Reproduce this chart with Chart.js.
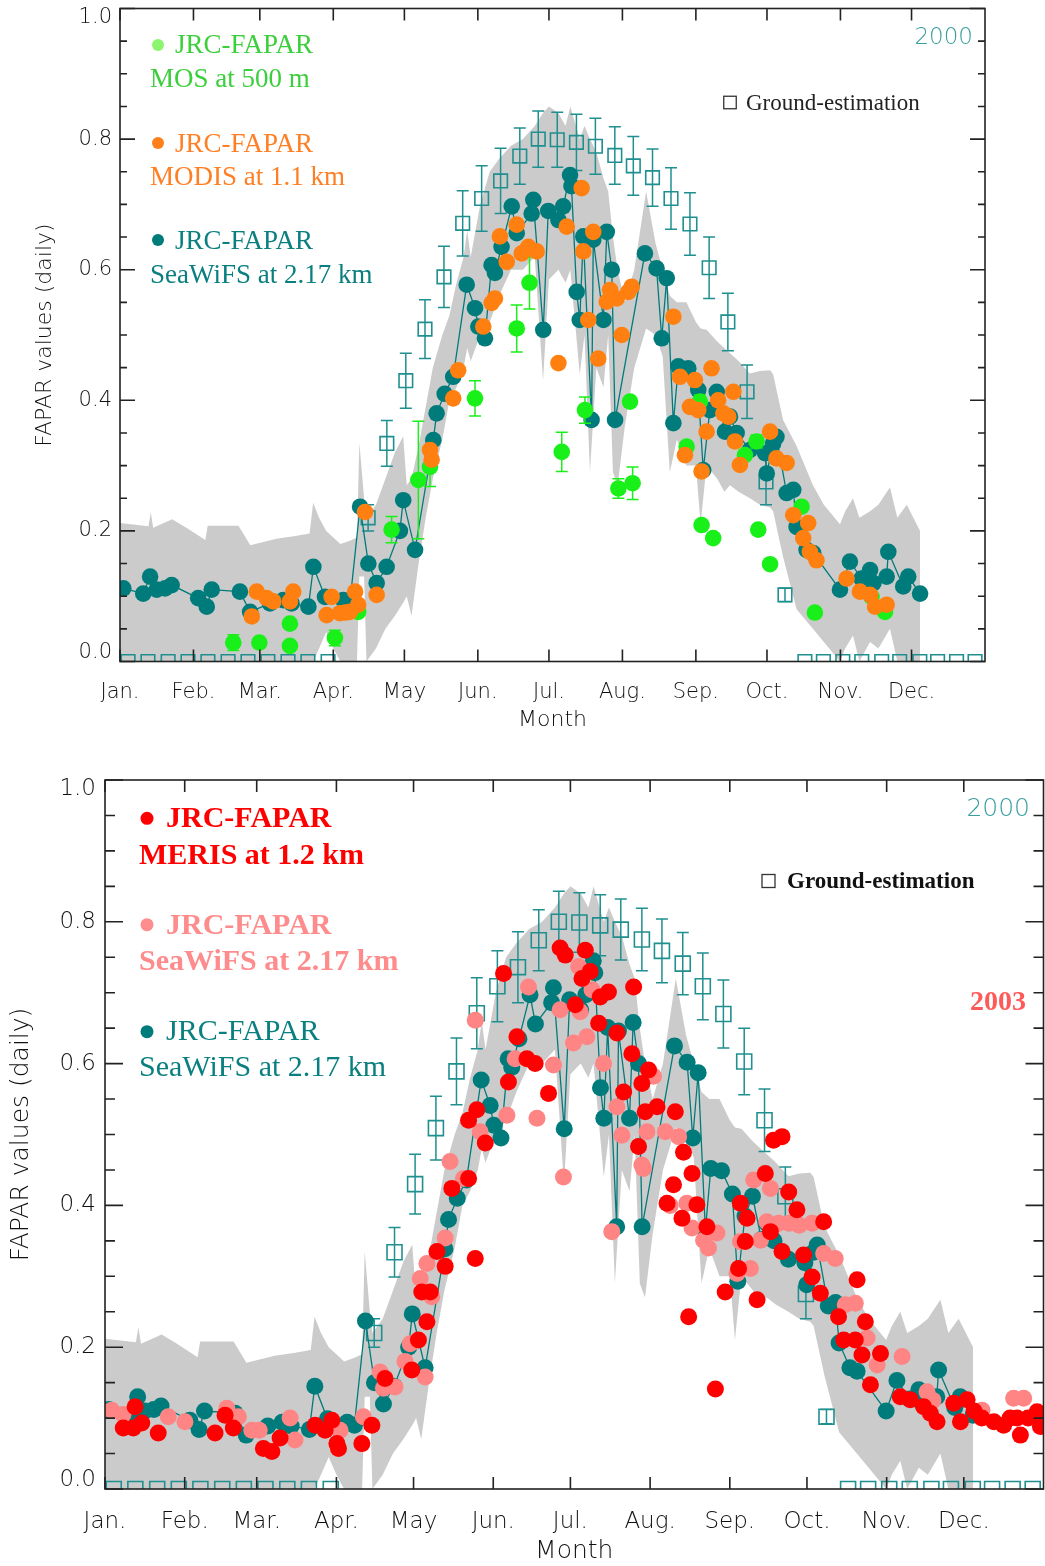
<!DOCTYPE html>
<html>
<head>
<meta charset="utf-8">
<script src="https://cdn.jsdelivr.net/npm/chart.js@4.4.1/dist/chart.umd.min.js"></script>
<style>
  body { margin: 0; background: #fff; }
  #painel { position: relative; width: 1045px; height: 1566px; }
  #painel canvas { position: absolute; left: 0; }
</style>
</head>
<body>
<div id="painel">
  <canvas id="grafico2000" width="1045" height="745" style="top:0"></canvas>
  <canvas id="grafico2003" width="1045" height="806" style="top:760px"></canvas>
</div>
<script>
// eixos
const nomesMeses = ["Jan.", "Feb.", "Mar.", "Apr.", "May", "Jun.", "Jul.", "Aug.", "Sep.", "Oct.", "Nov.", "Dec."];
const inicioMeses = [0, 31, 59, 90, 120, 151, 181, 212, 243, 273, 304, 334];
const valoresEixoY = [0, 0.2, 0.4, 0.6, 0.8, 1.0];
const passoMenorY = 0.05;

// faixa cinza (min / max)
const bandaDias = [0, 12, 13, 14, 22, 28, 36, 37, 50, 55, 66, 74, 80, 81.5, 84, 87, 90, 93, 97, 100, 101, 103, 104, 108, 112, 116, 119.5, 121, 123, 126, 129, 132, 136, 139, 142, 145, 146.5, 148, 152, 156, 160, 165, 170, 175, 178.5, 181, 185, 188, 190, 194, 196, 198.3, 201, 204, 206, 208, 210, 213, 217, 222, 226, 229, 232, 235, 239, 243, 245, 247.5, 252, 255, 257.4, 261, 265.8, 270, 274.3, 275.6, 279.8, 285.5, 292.4, 297, 303.8, 306, 309.3, 312, 316.5, 320, 324.9, 328, 332, 337.6];
const bandaMax = [.212, .207, .228, .205, .218, .205, .186, .208, .208, .178, .188, .192, .196, .243, .22, .2, .19, .18, .185, .19, .335, .25, .22, .24, .28, .32, .345, .27, .28, .33, .39, .45, .5, .53, .58, .62, .66, .62, .7, .75, .77, .79, .8, .82, .84, .85, .84, .82, .85, .8, .82, .8, .78, .74, .72, .65, .6, .55, .6, .72, .64, .6, .56, .55, .55, .52, .51, .508, .49, .48, .472, .46, .441, .445, .446, .44, .37, .33, .27, .24, .21, .23, .25, .22, .23, .24, .267, .22, .24, .2];
const bandaMin = [0, 0, 0, 0, 0, 0, 0, 0, 0, 0, 0, 0, 0, 0, .02, .045, .02, 0, 0, 0, .13, .13, 0, .02, .05, .07, .09, .1, .07, .15, .22, .28, .34, .4, .42, .45, .48, .46, .5, .52, .56, .6, .6, .62, .43, .585, .6, .58, .6, .44, .5, .29, .45, .42, .5, .29, .27, .36, .45, .51, .5, .467, .29, .34, .3, .3, .21, .3, .28, .26, .27, .26, .25, .24, .236, .23, .16, .08, .05, .03, 0, .02, .04, 0, .03, .02, .05, 0, 0, 0];

// estimativa de campo
const campoDias = [3.4, 11.8, 20.3, 28.7, 37.1, 45.6, 54, 62.4, 70.9, 79.3, 87.8, 104.7, 112.6, 120.6, 128.7, 136.7, 144.6, 152.6, 160.6, 168.7, 176.5, 184.5, 192.6, 200.6, 208.8, 216.6, 224.7, 232.5, 240.5, 248.6, 256.5, 264.6, 272.6, 280.6, 289, 296.8, 305, 313, 321.4, 329, 337.5, 345, 353, 360.8];
const campoValores = [0, 0, 0, 0, 0, 0, 0, 0, 0, 0, 0, 0.22, 0.334, 0.43, 0.509, 0.589, 0.671, 0.709, 0.736, 0.774, 0.8, 0.799, 0.795, 0.789, 0.775, 0.759, 0.741, 0.709, 0.67, 0.603, 0.52, 0.413, 0.275, 0.102, 0, 0, 0, 0, 0, 0, 0, 0, 0, 0];
const campoErros = [0, 0, 0, 0, 0, 0, 0, 0, 0, 0, 0, 0.02, 0.035, 0.042, 0.045, 0.047, 0.05, 0.05, 0.05, 0.043, 0.043, 0.042, 0.043, 0.043, 0.044, 0.045, 0.044, 0.047, 0.048, 0.047, 0.044, 0.041, 0.035, 0.01, 0, 0, 0, 0, 0, 0, 0, 0, 0, 0];

// JRC-FAPAR SeaWiFS 2000
const seawifsDias = [1.4, 9.8, 12.7, 15.5, 19, 21.8, 33, 36.6, 38.7, 50.6, 54.9, 63.3, 68.9, 72.4, 79.5, 81.6, 86.5, 94.2, 97, 101.3, 104.8, 108.3, 112.5, 118.1, 119.5, 124.5, 132.2, 133.6, 137, 140.6, 146.3, 149.8, 151.2, 154, 156.8, 158.2, 161, 165.3, 167.4, 173.7, 174.4, 178.6, 180.7, 185, 187, 189.9, 190.5, 192.7, 194, 195.5, 199, 199.7, 204, 205.4, 207.5, 208.9, 221.5, 226.4, 228.6, 230.7, 233.5, 235.6, 239.8, 244, 246.1, 248.9, 251.8, 255.3, 257.4, 260.2, 265.8, 272.2, 272.9, 275.6, 277, 281.3, 284.1, 285.5, 289.7, 292.5, 303.8, 308, 312.9, 316.5, 317.9, 323.5, 324.2, 330.5, 332.6, 337.6];
const seawifsValores = [0.112, 0.104, 0.13, 0.11, 0.112, 0.117, 0.097, 0.084, 0.11, 0.107, 0.076, 0.089, 0.094, 0.089, 0.084, 0.145, 0.099, 0.094, 0.09, 0.237, 0.15, 0.12, 0.145, 0.2, 0.247, 0.171, 0.339, 0.38, 0.41, 0.436, 0.577, 0.541, 0.513, 0.495, 0.607, 0.595, 0.635, 0.697, 0.656, 0.686, 0.707, 0.508, 0.69, 0.676, 0.697, 0.745, 0.728, 0.566, 0.523, 0.651, 0.37, 0.646, 0.523, 0.658, 0.6, 0.37, 0.625, 0.602, 0.495, 0.587, 0.365, 0.452, 0.449, 0.416, 0.293, 0.385, 0.413, 0.352, 0.375, 0.35, 0.324, 0.319, 0.288, 0.334, 0.344, 0.258, 0.263, 0.206, 0.171, 0.166, 0.11, 0.153, 0.127, 0.14, 0.12, 0.13, 0.168, 0.115, 0.13, 0.104];

// JRC-FAPAR MOS 500 m
const mosDias = [47.8, 58.8, 71.7, 71.7, 90.7, 100.5, 114.6, 125.9, 130.8, 149.8, 167.4, 172.8, 186.4, 196.2, 210.3, 215.2, 216.3, 239.1, 244.7, 245.4, 250.3, 263.7, 268.6, 269.3, 274.3, 287.6, 293.2, 317.1, 322.8];
const mosValores = [0.029, 0.029, 0.058, 0.024, 0.036, 0.076, 0.202, 0.278, 0.298, 0.403, 0.51, 0.58, 0.321, 0.385, 0.265, 0.398, 0.273, 0.329, 0.398, 0.209, 0.189, 0.316, 0.337, 0.202, 0.149, 0.237, 0.075, 0.099, 0.076];
const mosErros = [0.012, 0, 0, 0, 0.012, 0, 0.02, 0.09, 0.03, 0.027, 0.036, 0.04, 0.03, 0.02, 0.015, 0, 0.025, 0, 0.01, 0, 0, 0, 0.01, 0, 0, 0, 0, 0, 0];

// JRC-FAPAR MODIS 1.1 km
const modisDias = [55.6, 57.7, 61.9, 64.7, 71.7, 73.1, 87.2, 89.3, 92.8, 95, 97, 99.2, 100.5, 103.4, 108.3, 130.8, 131.5, 140.6, 142.7, 153.3, 156.8, 158.2, 160.3, 163.2, 167.4, 169.5, 172.3, 175.8, 185, 188.5, 194.8, 195.5, 197.6, 199.7, 201.8, 205.4, 206.8, 209.6, 211.7, 214.5, 215.9, 233.5, 236.3, 238.4, 240.5, 242.6, 244, 245.4, 247.5, 249.6, 252.4, 254.6, 256.7, 258.8, 259.5, 261.6, 274.3, 277, 281.3, 284.1, 288.3, 290.4, 291.1, 293.9, 306.6, 312.2, 316.5, 318.6, 323.5];
const modisValores = [0.069, 0.107, 0.097, 0.092, 0.092, 0.107, 0.071, 0.099, 0.074, 0.075, 0.076, 0.107, 0.087, 0.229, 0.102, 0.324, 0.309, 0.403, 0.446, 0.513, 0.549, 0.556, 0.651, 0.612, 0.669, 0.625, 0.635, 0.628, 0.457, 0.666, 0.725, 0.628, 0.523, 0.658, 0.464, 0.551, 0.569, 0.556, 0.5, 0.566, 0.574, 0.528, 0.436, 0.316, 0.39, 0.431, 0.385, 0.291, 0.352, 0.449, 0.4, 0.38, 0.375, 0.413, 0.337, 0.301, 0.352, 0.311, 0.304, 0.224, 0.189, 0.212, 0.168, 0.155, 0.127, 0.107, 0.102, 0.084, 0.087];

// JRC-FAPAR MERIS 1.2 km (2003)
const merisDias = [7.1, 11, 11.7, 14.3, 20.7, 42.8, 46.7, 49.9, 61.6, 64.9, 68.1, 81.7, 85.6, 88.2, 90.2, 90.8, 99.9, 103.8, 108.9, 119.3, 121.9, 123.2, 125.2, 126.5, 129.1, 132.3, 134.9, 141.4, 141.4, 144, 144.6, 147.9, 155, 156.9, 160.2, 164.1, 167.3, 172.5, 177, 179, 182.9, 185.5, 186.8, 188.7, 192, 192.6, 195.8, 199.1, 201.7, 204.9, 205.6, 207.5, 208.8, 210.1, 211.4, 214.7, 218.6, 221.1, 221.8, 224.4, 225, 227, 228.3, 230.2, 234.1, 237.4, 241.2, 246.4, 247.1, 249, 249.7, 253.6, 256.8, 258.8, 260, 263.3, 263.3, 265.9, 269.1, 271.7, 275, 278.2, 279.5, 285.3, 287.3, 291.8, 292.5, 294.4, 295.7, 297.7, 301.6, 309.3, 313.2, 318.4, 321, 323.6, 330.1, 332.7, 335.3, 338, 341, 345.7, 349.5, 352, 354.7, 356, 359, 362.5, 363.8];
const merisValores = [0.086, 0.086, 0.116, 0.093, 0.079, 0.079, 0.104, 0.086, 0.057, 0.053, 0.072, 0.09, 0.083, 0.097, 0.064, 0.057, 0.064, 0.09, 0.156, 0.168, 0.21, 0.278, 0.236, 0.278, 0.335, 0.314, 0.424, 0.438, 0.52, 0.325, 0.535, 0.488, 0.727, 0.574, 0.638, 0.607, 0.6, 0.558, 0.763, 0.753, 0.683, 0.72, 0.76, 0.73, 0.657, 0.694, 0.701, 0.643, 0.56, 0.614, 0.708, 0.483, 0.572, 0.532, 0.591, 0.539, 0.403, 0.429, 0.532, 0.382, 0.475, 0.243, 0.445, 0.401, 0.37, 0.141, 0.278, 0.311, 0.403, 0.349, 0.382, 0.267, 0.445, 0.363, 0.492, 0.497, 0.335, 0.419, 0.394, 0.33, 0.299, 0.276, 0.377, 0.243, 0.21, 0.21, 0.295, 0.189, 0.236, 0.147, 0.191, 0.13, 0.126, 0.116, 0.107, 0.095, 0.121, 0.095, 0.126, 0.11, 0.1, 0.095, 0.09, 0.1, 0.1, 0.076, 0.1, 0.109, 0.088];

// JRC-FAPAR SeaWiFS 2.17 km (2003)
const seawifs03Dias = [2.6, 7, 24.6, 31.1, 47.4, 51.9, 57.1, 60, 72, 73.9, 91.4, 100.5, 107, 108.3, 112.8, 116.7, 118.7, 122.6, 124.5, 125.2, 127.1, 132.3, 134.2, 139.4, 144, 145.9, 156.3, 159.5, 164.7, 168, 174.4, 177, 178.3, 182.2, 184.2, 184.8, 187.4, 189.4, 193.9, 197.1, 199.1, 201, 208.8, 209.4, 210.8, 213.3, 217.9, 219.8, 223.1, 226.3, 228.3, 232.8, 234.7, 238, 245.8, 247.1, 251, 252.3, 254.9, 257.4, 258.8, 262, 266, 270, 275, 279.5, 284, 287.9, 291.8, 296.4, 300.3, 310, 319.7, 322, 341.1, 353.4, 357.3];
const seawifs03Valores = [0.111, 0.105, 0.102, 0.095, 0.114, 0.102, 0.083, 0.083, 0.1, 0.069, 0.083, 0.102, 0.165, 0.142, 0.144, 0.18, 0.205, 0.297, 0.158, 0.318, 0.271, 0.354, 0.462, 0.438, 0.661, 0.504, 0.527, 0.607, 0.708, 0.523, 0.598, 0.676, 0.44, 0.629, 0.737, 0.673, 0.638, 0.704, 0.6, 0.363, 0.539, 0.499, 0.457, 0.452, 0.504, 0.582, 0.504, 0.4, 0.497, 0.403, 0.368, 0.351, 0.34, 0.361, 0.304, 0.349, 0.311, 0.436, 0.351, 0.377, 0.424, 0.375, 0.375, 0.372, 0.375, 0.332, 0.325, 0.26, 0.262, 0.213, 0.175, 0.187, 0.137, 0.125, 0.111, 0.128, 0.128];

const TEAL = "#007b7b";
const TEAL_CAMPO = "#1f8f8f";
const CINZA = "#cbcbcb";

function pontos(dias, valores) {
  return dias.map((d, i) => ({ x: d, y: valores[i] }));
}

function faixaCinza() {
  return [
    { data: pontos(bandaDias, bandaMax), order: 8, fill: "+1", backgroundColor: CINZA,
      borderWidth: 0, pointRadius: 0, tension: 0 },
    { data: pontos(bandaDias, bandaMin), order: 9, fill: false, backgroundColor: CINZA,
      borderWidth: 0, pointRadius: 0, tension: 0 }
  ];
}

function campo(raio) {
  return { data: pontos(campoDias, campoValores), erros: campoErros, corErro: TEAL_CAMPO, capa: 6,
    order: 5, showLine: false, pointStyle: "rect", pointRadius: raio,
    pointBackgroundColor: "rgba(0,0,0,0)", pointBorderColor: TEAL_CAMPO, pointBorderWidth: 1.6 };
}

function serieSeawifs(raio) {
  return { data: pontos(seawifsDias, seawifsValores), order: 3, showLine: true, tension: 0,
    borderColor: TEAL, borderWidth: 1.3, pointRadius: raio, pointBackgroundColor: TEAL, pointBorderWidth: 0 };
}

function serieDispersa(dias, valores, cor, ordem, raio) {
  return { data: pontos(dias, valores), order: ordem, showLine: false,
    pointRadius: raio, pointBackgroundColor: cor, pointBorderWidth: 0 };
}

// barras de erro desenhadas logo depois da série a que pertencem
const barrasErro = {
  id: "barrasErro",
  afterDatasetDraw(chart, args) {
    const ds = chart.data.datasets[args.index];
    if (!ds.erros) return;
    const { ctx, chartArea: a, scales: { x, y } } = chart;
    ctx.save();
    ctx.beginPath();
    ctx.rect(a.left, a.top, a.right - a.left, a.bottom - a.top);
    ctx.clip();
    ctx.strokeStyle = ds.corErro;
    ctx.lineWidth = 1.5;
    ctx.beginPath();
    ds.data.forEach((p, i) => {
      const e = ds.erros[i];
      if (!e) return;
      const px = x.getPixelForValue(p.x);
      const y1 = y.getPixelForValue(p.y + e);
      const y2 = y.getPixelForValue(p.y - e);
      ctx.moveTo(px, y1); ctx.lineTo(px, y2);
      ctx.moveTo(px - ds.capa, y1); ctx.lineTo(px + ds.capa, y1);
      ctx.moveTo(px - ds.capa, y2); ctx.lineTo(px + ds.capa, y2);
    });
    ctx.stroke();
    ctx.restore();
  }
};

// moldura, marcas para dentro, rótulos do eixo y e textos da legenda
function moldura(cfg) {
  return {
    id: "moldura",
    afterDraw(chart) {
      const { ctx, chartArea: a, scales: { x, y } } = chart;
      ctx.save();
      ctx.strokeStyle = "#222";
      ctx.lineWidth = 1.6;
      ctx.strokeRect(a.left, a.top, a.right - a.left, a.bottom - a.top);
      ctx.beginPath();
      inicioMeses.forEach(d => {
        const px = x.getPixelForValue(d);
        ctx.moveTo(px, a.bottom); ctx.lineTo(px, a.bottom - cfg.tickX);
        ctx.moveTo(px, a.top); ctx.lineTo(px, a.top + cfg.tickX);
      });
      const n = Math.round(1 / passoMenorY);
      for (let k = 0; k <= n; k++) {
        const py = y.getPixelForValue(k * passoMenorY);
        const len = k % 4 === 0 ? cfg.tickMaior : cfg.tickMenor;
        ctx.moveTo(a.left, py); ctx.lineTo(a.left + len, py);
        ctx.moveTo(a.right, py); ctx.lineTo(a.right - len, py);
      }
      ctx.stroke();

      ctx.fillStyle = "#111";
      ctx.font = cfg.fonteTick;
      ctx.textAlign = "right";
      ctx.textBaseline = "middle";
      valoresEixoY.forEach(v => {
        let py = y.getPixelForValue(v);
        py = Math.min(Math.max(py, a.top + cfg.recuoY), a.bottom - cfg.recuoY);
        ctx.fillText(v.toFixed(1), a.left - cfg.padY, py);
      });

      ctx.textBaseline = "alphabetic";
      cfg.pontosLegenda.forEach(p => {
        ctx.fillStyle = p.cor;
        ctx.beginPath();
        ctx.arc(p.x, p.y, p.r, 0, Math.PI * 2);
        ctx.fill();
      });
      cfg.textos.forEach(t => {
        ctx.fillStyle = t.cor;
        ctx.font = t.fonte;
        ctx.textAlign = t.alinha || "left";
        ctx.fillText(t.texto, t.x, t.y);
      });
      const q = cfg.quadrado;
      ctx.strokeStyle = "#333";
      ctx.lineWidth = 1.3;
      ctx.strokeRect(q.x - q.lado / 2, q.y - q.lado / 2, q.lado, q.lado);
      ctx.restore();
    }
  };
}

function criaGrafico(id, cfg, datasets) {
  return new Chart(document.getElementById(id), {
    type: "line",
    data: { datasets },
    options: {
      responsive: false,
      animation: false,
      events: [],
      layout: { autoPadding: false, padding: { top: cfg.topo, right: cfg.direita, left: 0, bottom: 0 } },
      plugins: { legend: { display: false }, tooltip: { enabled: false } },
      scales: {
        x: {
          type: "linear", min: 0, max: 365,
          afterBuildTicks: eixo => { eixo.ticks = inicioMeses.map(v => ({ value: v })); },
          afterFit: eixo => { eixo.height = cfg.alturaX; },
          grid: { display: false, drawTicks: false },
          border: { display: false },
          ticks: { autoSkip: false, maxRotation: 0, padding: cfg.padX, color: "#111",
            font: { family: "DejaVu Sans", size: cfg.tamTick, weight: 300 },
            callback: (v, i) => nomesMeses[i] },
          title: { display: true, text: "Month", color: "#111",
            font: { family: "DejaVu Sans", size: cfg.tamTitulo, weight: 300 },
            padding: { top: 0, bottom: cfg.padTituloX } }
        },
        y: {
          min: 0, max: 1,
          afterFit: eixo => { eixo.width = cfg.larguraY; },
          grid: { display: false, drawTicks: false },
          border: { display: false },
          ticks: { display: false },
          title: { display: true, text: "FAPAR values (daily)", color: "#111",
            font: { family: "DejaVu Sans", size: cfg.tamTitulo, weight: 300 },
            padding: { top: cfg.padTituloY, bottom: 0 } }
        }
      }
    },
    plugins: [barrasErro, moldura(cfg)]
  });
}

const serif = '"Liberation Serif", "Times New Roman", serif';

// gráfico de cima: MOS, MODIS e SeaWiFS em 2000
criaGrafico("grafico2000", {
  topo: 8.5, direita: 60, larguraY: 120, alturaX: 83.5,
  padX: 18, padTituloX: 12, padTituloY: 32, padY: 8, recuoY: 9,
  tamTick: 21, tamTitulo: 22, fonteTick: '300 21px "DejaVu Sans"',
  tickX: 12, tickMaior: 15, tickMenor: 7,
  pontosLegenda: [
    { x: 158, y: 45, r: 6, cor: "#8cf56e" },
    { x: 158, y: 143, r: 6, cor: "#ff7f1a" },
    { x: 158, y: 240, r: 6, cor: TEAL }
  ],
  textos: [
    { texto: "JRC-FAPAR", x: 175, y: 53, cor: "#3ccf3c", fonte: "27px " + serif },
    { texto: "MOS at 500 m", x: 150, y: 87, cor: "#3ccf3c", fonte: "27px " + serif },
    { texto: "JRC-FAPAR", x: 175, y: 151.5, cor: "#ff7f24", fonte: "27px " + serif },
    { texto: "MODIS at 1.1 km", x: 150, y: 185, cor: "#ff7f24", fonte: "27px " + serif },
    { texto: "JRC-FAPAR", x: 175, y: 249, cor: "#0a7f7f", fonte: "27px " + serif },
    { texto: "SeaWiFS at 2.17 km", x: 150, y: 282.5, cor: "#0a7f7f", fonte: "27px " + serif },
    { texto: "Ground-estimation", x: 746, y: 110, cor: "#222", fonte: "23px " + serif },
    { texto: "2000", x: 973, y: 44, cor: "#3a9e9e", fonte: '300 23px "DejaVu Sans"', alinha: "right" }
  ],
  quadrado: { x: 730, y: 102.5, lado: 12.5 }
}, [
  serieDispersa(modisDias, modisValores, "#ff8010", 0, 8.3),
  Object.assign(serieDispersa(mosDias, mosValores, "#19f019", 1, 8.3),
    { erros: mosErros, corErro: "#19f019", capa: 6 }),
  serieSeawifs(8.3),
  campo(9.6),
  ...faixaCinza()
]);

// gráfico de baixo: MERIS e SeaWiFS em 2003 sobre a referência de 2000
criaGrafico("grafico2003", {
  topo: 20, direita: 1.5, larguraY: 105, alturaX: 77,
  padX: 19, padTituloX: 0, padTituloY: 6, padY: 9, recuoY: 9,
  tamTick: 23, tamTitulo: 25, fonteTick: '300 23px "DejaVu Sans"',
  tickX: 12, tickMaior: 18, tickMenor: 10,
  pontosLegenda: [
    { x: 147, y: 58.3, r: 6.5, cor: "#ff0000" },
    { x: 147, y: 164.7, r: 6.5, cor: "#ff8c8c" },
    { x: 147, y: 271.7, r: 6.5, cor: TEAL }
  ],
  textos: [
    { texto: "JRC-FAPAR", x: 166, y: 67, cor: "#ff0000", fonte: "bold 30px " + serif },
    { texto: "MERIS at 1.2 km", x: 139, y: 104, cor: "#ff0000", fonte: "bold 30px " + serif },
    { texto: "JRC-FAPAR", x: 166, y: 174, cor: "#ff8c8c", fonte: "bold 30px " + serif },
    { texto: "SeaWiFS at 2.17 km", x: 139, y: 210, cor: "#ff8c8c", fonte: "bold 30px " + serif },
    { texto: "JRC-FAPAR", x: 166, y: 280, cor: "#0a7f7f", fonte: "30px " + serif },
    { texto: "SeaWiFS at 2.17 km", x: 139, y: 316, cor: "#0a7f7f", fonte: "30px " + serif },
    { texto: "Ground-estimation", x: 787, y: 128, cor: "#111", fonte: "bold 23px " + serif },
    { texto: "2000", x: 1030, y: 55.7, cor: "#3a9e9e", fonte: '300 25px "DejaVu Sans"', alinha: "right" },
    { texto: "2003", x: 1026, y: 250, cor: "#ff5a5a", fonte: "bold 28px " + serif, alinha: "right" }
  ],
  quadrado: { x: 768.5, y: 121, lado: 13 }
}, [
  serieDispersa(merisDias, merisValores, "#ff0000", 0, 8.5),
  serieDispersa(seawifs03Dias, seawifs03Valores, "#ff8585", 1, 8.5),
  serieSeawifs(8.5),
  campo(10.6),
  ...faixaCinza()
]);
</script>
</body>
</html>
